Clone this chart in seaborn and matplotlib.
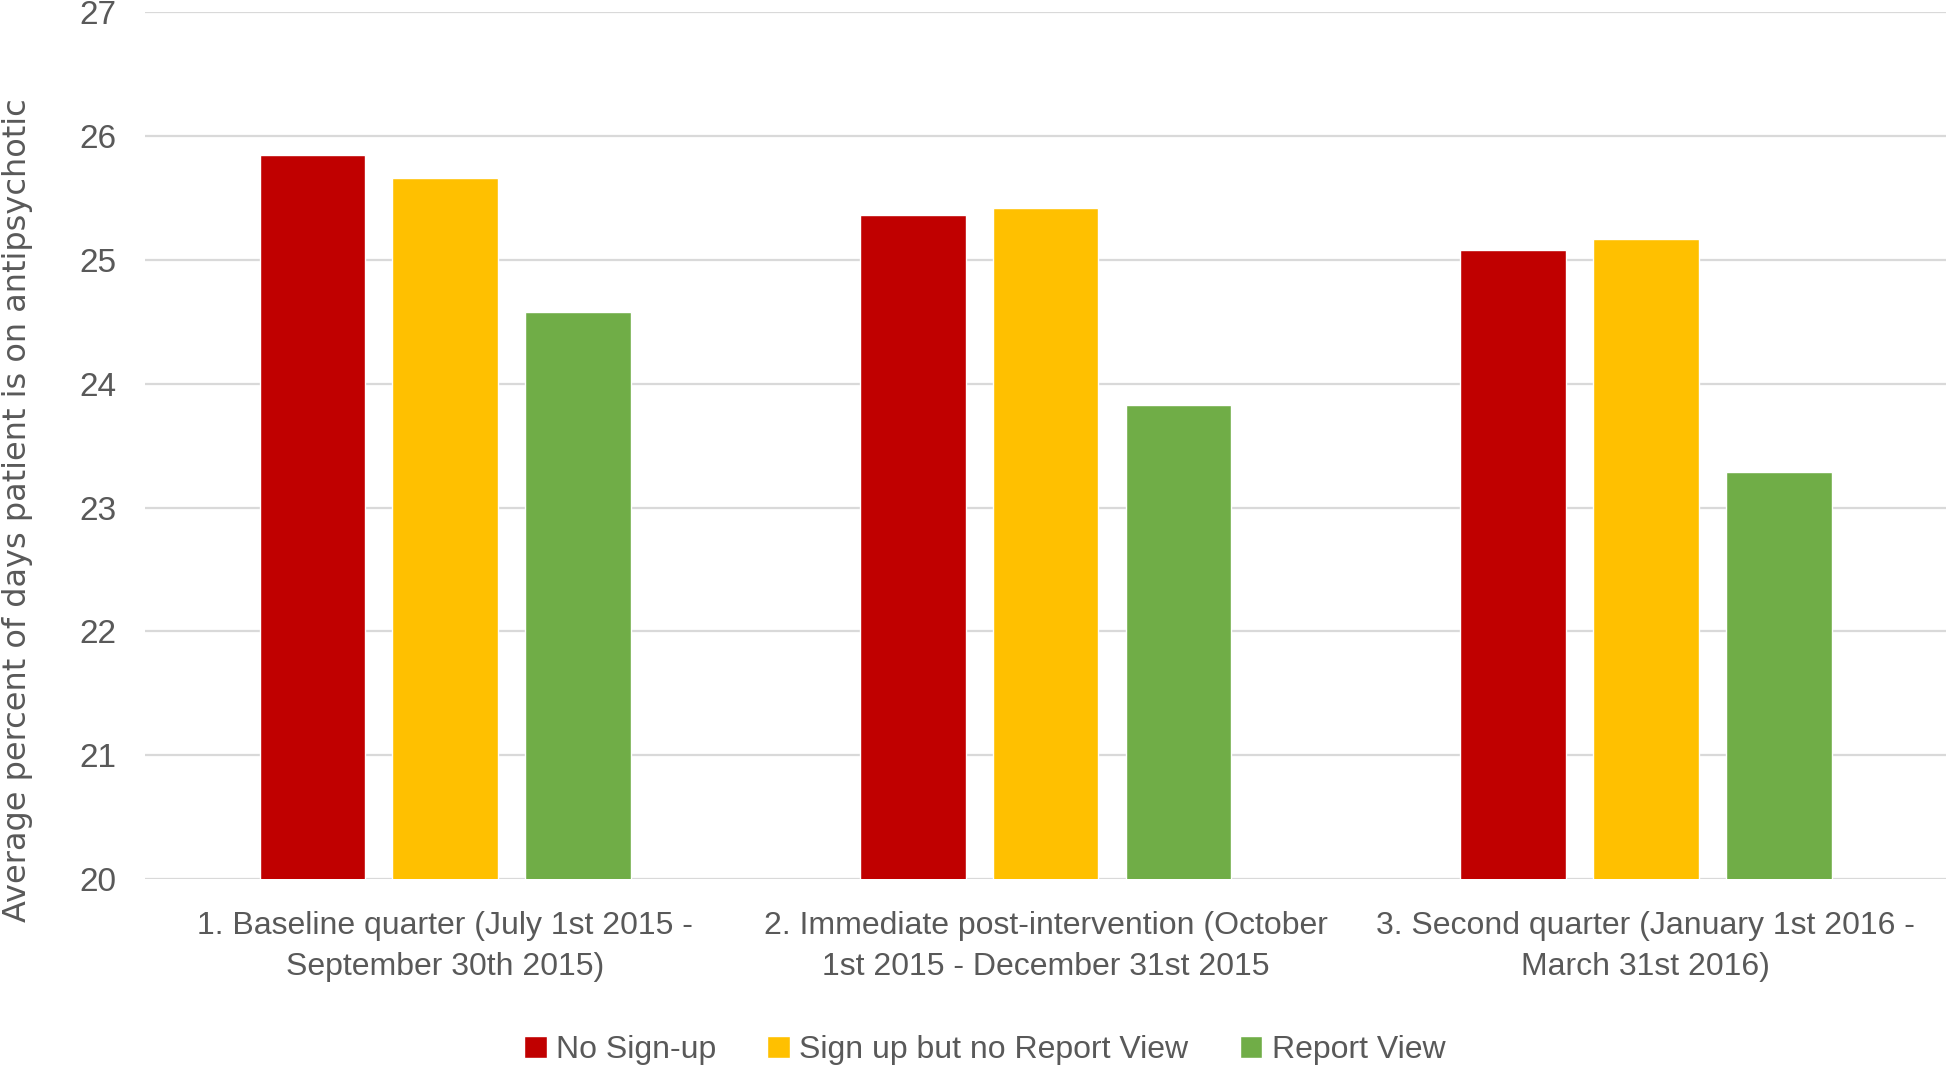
import numpy as np
import pandas as pd
import matplotlib
matplotlib.use("Agg")
import matplotlib.pyplot as plt
import seaborn as sns

# categories and series
periods = [
    "1. Baseline quarter (July 1st 2015 -\nSeptember 30th 2015)",
    "2. Immediate post-intervention (October\n1st 2015 - December 31st 2015",
    "3. Second quarter (January 1st 2016 -\nMarch 31st 2016)",
]
groups = ["No Sign-up", "Sign up but no Report View", "Report View"]
no_signup = [25.85, 25.36, 25.08]
signup_no_view = [25.66, 25.42, 25.17]
report_view = [24.58, 23.83, 23.29]
yticks = [20, 21, 22, 23, 24, 25, 26, 27]

colors = ["#C00000", "#FFC000", "#70AD47"]
text_col = "#595959"

df = pd.DataFrame({
    "period": periods * 3,
    "group": np.repeat(groups, 3),
    "value": no_signup + signup_no_view + report_view,
})

sns.set_style("white")
plt.rcParams['font.family'] = ['Liberation Sans Narrow', 'Liberation Sans', 'DejaVu Sans']

fig = plt.figure(figsize=(19.46, 10.65), dpi=100)
ax = fig.add_axes([0.0746, 0.1746, 0.9254, 0.8138])

sns.barplot(data=df, x="period", y="value", hue="group", order=periods,
            hue_order=groups, palette=colors, width=0.664, gap=0.205,
            saturation=1, errorbar=None, ax=ax, zorder=3)

ax.set_ylim(20, 27)
ax.set_xlim(-0.5, 2.5)
ax.set_yticks(yticks)
ax.yaxis.grid(True, color="#d9d9d9", lw=1.6, zorder=0)
ax.set_axisbelow(True)
for s in ax.spines.values():
    s.set_visible(False)

ax.tick_params(axis="y", length=0, pad=21, labelsize=24, labelcolor=text_col)
ax.tick_params(axis="x", length=0, pad=23, labelsize=23, labelcolor=text_col)
for t in ax.get_xticklabels():
    t.set_linespacing(1.5)

ax.set_xlabel("")
ax.set_ylabel("Average percent of days patient is on antipsychotic",
              fontsize=23, color=text_col, family=["DejaVu Sans"], va="center")
ax.yaxis.set_label_coords(-0.071, 0.426)

handles, labels = ax.get_legend_handles_labels()
if ax.get_legend() is not None:
    ax.get_legend().remove()
fig.legend(handles, labels, loc="center", bbox_to_anchor=(0.506, 0.014),
           ncol=3, frameon=False, fontsize=23, labelcolor=text_col,
           handlelength=0.7, handleheight=0.7, handletextpad=0.3,
           columnspacing=1.6)

fig.savefig("out.png", dpi=100)
